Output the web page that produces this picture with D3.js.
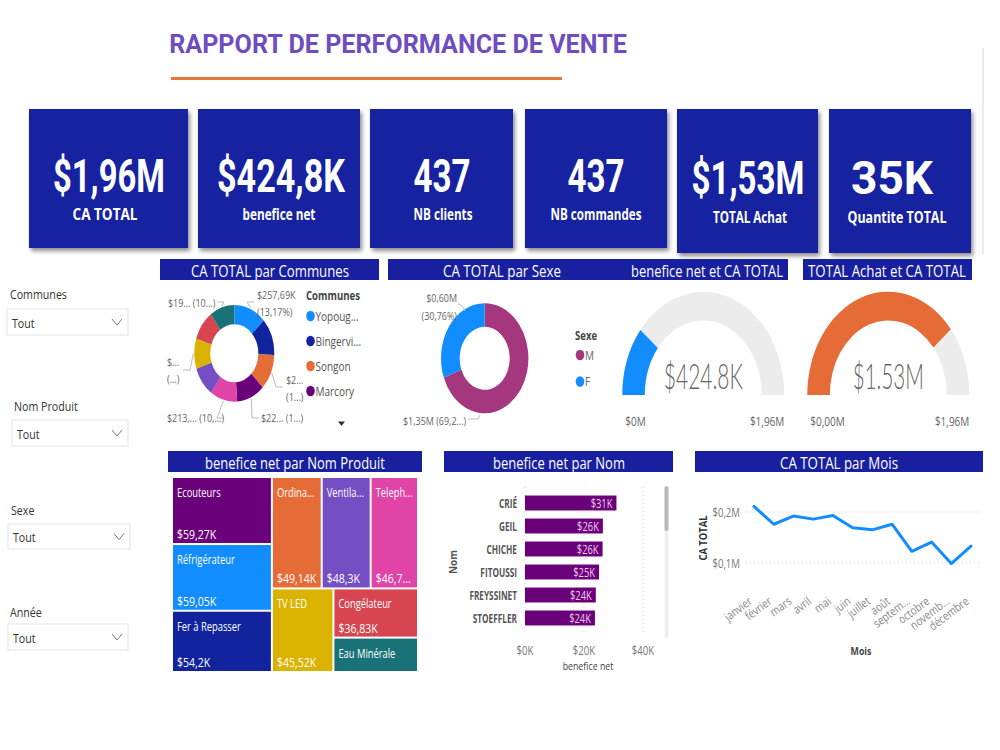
<!DOCTYPE html>
<html><head><meta charset="utf-8">
<script src="https://cdn.jsdelivr.net/npm/d3@7/dist/d3.min.js"></script>
<style>html,body{margin:0;padding:0;background:#fff;overflow:hidden}</style>
</head><body><svg id="c" width="1000" height="750"></svg>
<script>
// ---------------- DATA ----------------
const kpiValues = ['$1,96M', '$424,8K', '437', '437', '$1,53M', '35K'];
const kpiLabels = ['CA TOTAL', 'benefice net', 'NB clients', 'NB commandes', 'TOTAL Achat', 'Quantite TOTAL'];

const communes = ['Yopougon', 'Bingerville', 'Songon', 'Marcory', 'Cocody', 'Abobo', 'Adjamé', 'Plateau', 'Treichville'];
const communeCA = [257.69, 242.6, 232.8, 223.1, 213.3, 197.6, 196.7, 196.7, 196.3];
const communeLegend = ['Yopoug...', 'Bingervi...', 'Songon', 'Marcory'];
const communeLabelA = ['$257,69K', null, '$2...', '$22... (1...)', '$213,... (10,...)', null, '$...', null, '$19... (10...)'];
const communeLabelB = ['(13,17%)', null, '(1...)', null, null, null, '(...)', null, null];

const sexes = ['M', 'F'];
const sexeCA = [1.354, 0.602];
const sexeLabelA = ['$1,35M (69,2...)', '$0,60M'];
const sexeLabelB = [null, '(30,76%)'];

const gaugeValues = [424.8, 1530];
const gaugeMax = 1960;
const gaugeCenterText = ['$424.8K', '$1.53M'];
const gaugeMinText = ['$0M', '$0,00M'];
const gaugeMaxText = ['$1,96M', '$1,96M'];

const products = ['Ecouteurs', 'Réfrigérateur', 'Fer à Repasser', 'Ordinateur', 'Ventilateur', 'Telephone', 'TV LED', 'Congélateur', 'Eau Minérale'];
const productProfit = [59.27, 59.05, 54.2, 49.14, 48.3, 46.72, 45.52, 36.83, 25.77];
const productValueText = ['$59,27K', '$59,05K', '$54,2K', '$49,14K', '$48,3K', '$46,72K', '$45,52K', '$36,83K', '$25,77K'];

const clients = ['CRIÉ', 'GEIL', 'CHICHE', 'FITOUSSI', 'FREYSSINET', 'STOEFFLER'];
const clientProfit = [31.0, 26.4, 26.3, 25.1, 24.0, 23.7];
const profitTicks = [0, 20, 40];

const months = ['janvier', 'février', 'mars', 'avril', 'mai', 'juin', 'juillet', 'août', 'septembre', 'octobre', 'novembre', 'décembre'];
const monthLabels = ['janvier', 'février', 'mars', 'avril', 'mai', 'juin', 'juillet', 'août', 'septem...', 'octobre', 'novemb...', 'décembre'];
const monthCA = [0.211, 0.176, 0.192, 0.186, 0.193, 0.169, 0.165, 0.176, 0.123, 0.141, 0.099, 0.133];
const caTicks = [0.1, 0.2];
const caTickLabels = ['$0,1M', '$0,2M'];

const slicerTitles = ['Communes', 'Nom Produit', 'Sexe', 'Année'];

// ---------------- STYLE ----------------
const PAL = ['#118DFF', '#12239E', '#E66C37', '#6B007B', '#E044A7', '#744EC2', '#D9B300', '#D64550', '#197278'];
const NAVY = '#1820A0';
const F = "'Open Sans','Noto Sans',sans-serif";
const FD = "Roboto,'DejaVu Sans',sans-serif";
const SX = 0.8;

const svg = d3.select('#c');
const defs = svg.append('defs');
const sh = defs.append('filter').attr('id', 'sh').attr('x', '-10%').attr('y', '-10%').attr('width', '130%').attr('height', '130%');
sh.append('feDropShadow').attr('dx', 2).attr('dy', 3).attr('stdDeviation', 2).attr('flood-color', '#000').attr('flood-opacity', 0.45);

function T(g, x, y, s, o = {}) {
  const t = g.append('text')
    .attr('text-anchor', o.a || 'start').attr('dominant-baseline', 'central')
    .attr('font-family', o.ff || F).attr('font-size', o.fs || 12)
    .attr('font-weight', o.fw || 400).attr('fill', o.c || '#333').text(s);
  let sx = o.sx ?? SX;
  if (o.w) { const len = t.node().getComputedTextLength(); sx = o.w / len; }
  t.attr('transform', `translate(${x},${y})` + (o.rot ? ` rotate(${o.rot})` : '') + ` scale(${sx},1)`);
  return t;
}
function fit(t, maxW, sx = SX) {
  let s = t.text();
  if (t.node().getComputedTextLength() * sx <= maxW) return;
  while (s.length > 1) {
    s = s.slice(0, -1);
    t.text(s + '...');
    if (t.node().getComputedTextLength() * sx <= maxW) break;
  }
}

// ---------------- TITLE ----------------
T(svg, 398, 44, 'RAPPORT DE PERFORMANCE DE VENTE', { a: 'middle', w: 458, fs: 26, fw: 700, c: '#6E4DC1', ff: FD });
svg.append('rect').attr('x', 171).attr('y', 77).attr('width', 391).attr('height', 3).attr('fill', '#E2783A');
svg.append('line').attr('x1', 983).attr('x2', 983).attr('y1', 48).attr('y2', 255).attr('stroke', '#e4e4e4').attr('stroke-width', 1.5);

// ---------------- KPI CARDS ----------------
const cardBox = [[29, 188, 248], [198, 360, 248], [370, 513, 248], [525, 667, 248], [677, 818, 253], [829, 971, 253]];
const cardValW = [112, 128, 57, 57, 113, 82];
const cardValX = [109, 281, 442, 596, 748, 892];
const cardLabW = [65, 73, 59, 91, 74, 99];
const cardLabX = [105, 279, 443, 596, 750, 897];
cardBox.forEach((b, i) => {
  svg.append('rect').attr('x', b[0]).attr('y', 109).attr('width', b[1] - b[0]).attr('height', b[2] - 109)
    .attr('fill', NAVY).attr('filter', 'url(#sh)');
  const dy = b[2] === 253 ? 1.5 : 0;
  T(svg, cardValX[i], 176 + dy, kpiValues[i], { a: 'middle', w: cardValW[i], fs: 47, fw: 700, c: '#fff', ff: FD });
  T(svg, cardLabX[i], 214 + dy * 1.8, kpiLabels[i], { a: 'middle', w: cardLabW[i], fs: 16, fw: 700, c: '#fff', ff: F });
});

// ---------------- SECTION HEADERS ----------------
function header(x0, x1, y0, y1) {
  svg.append('rect').attr('x', x0).attr('y', y0).attr('width', x1 - x0).attr('height', y1 - y0).attr('fill', NAVY);
}
header(160, 379, 259, 280);
header(388, 788, 259, 280);
header(803, 972, 259, 280);
header(168, 422, 451, 472);
header(444, 673, 451, 472);
header(695, 983, 451, 472);
T(svg, 270, 270, 'CA TOTAL par Communes', { a: 'middle', w: 158, fs: 17, c: '#fff' });
T(svg, 502, 270, 'CA TOTAL par Sexe', { a: 'middle', w: 118, fs: 17, c: '#fff' });
T(svg, 707, 270, 'benefice net et CA TOTAL', { a: 'middle', w: 152, fs: 17, c: '#fff' });
T(svg, 887, 270, 'TOTAL Achat et CA TOTAL', { a: 'middle', w: 158, fs: 17, c: '#fff' });
T(svg, 295, 462, 'benefice net par Nom Produit', { a: 'middle', w: 180, fs: 17, c: '#fff' });
T(svg, 559, 462, 'benefice net par Nom', { a: 'middle', w: 132, fs: 17, c: '#fff' });
T(svg, 839, 462, 'CA TOTAL par Mois', { a: 'middle', w: 118, fs: 17, c: '#fff' });

// ---------------- SLICERS ----------------
const slTitlePos = [[10, 294], [14, 406], [11, 510], [10, 612]];
const slBox = [[7, 128, 309, 335], [12, 128, 420, 446], [8, 130, 524, 549], [8, 128, 624, 650]];
slicerTitles.forEach((s, i) => {
  T(svg, slTitlePos[i][0], slTitlePos[i][1], s, { fs: 13, c: '#333', sx: 0.82 });
  const b = slBox[i];
  svg.append('rect').attr('x', b[0]).attr('y', b[2]).attr('width', b[1] - b[0]).attr('height', b[3] - b[2])
    .attr('fill', '#fff').attr('stroke', '#e3e3e3').attr('stroke-width', 1);
  const cy = (b[2] + b[3]) / 2;
  T(svg, b[0] + 5, cy + 0.5, 'Tout', { fs: 13, c: '#333', sx: 0.82 });
  svg.append('path').attr('d', `M${b[1] - 16},${cy - 3} L${b[1] - 11},${cy + 3} L${b[1] - 6},${cy - 3}`)
    .attr('fill', 'none').attr('stroke', '#777').attr('stroke-width', 1);
});

// ---------------- DONUT COMMUNES ----------------
(function () {
  const cx = 234.3, cy = 353.3, r = 40, ri = 24, sy = 1.21;
  const g = svg.append('g').attr('transform', `translate(${cx},${cy}) scale(1,${sy})`);
  const arcs = d3.pie().sort(null).value(d => d)(communeCA);
  const arc = d3.arc().innerRadius(ri).outerRadius(r);
  g.selectAll('path').data(arcs).join('path').attr('d', arc).attr('fill', (d, i) => PAL[i]);
  const lab = {
    0: { x: 257, y: 295, lx: 254, ly: 302 },
    2: { x: 286, y: 380, lx: 283, ly: 387 },
    3: { x: 261, y: 418, lx: 259, ly: 418 },
    4: { x: 167, y: 418, lx: 224, ly: 418 },
    6: { x: 167, y: 362, lx: 183, ly: 370 },
    8: { x: 168, y: 303, lx: 217, ly: 302 }
  };
  arcs.forEach((d, i) => {
    const L = lab[i]; if (!L) return;
    const m = (d.startAngle + d.endAngle) / 2;
    const px = cx + (r + 1) * Math.sin(m), py = cy - (r + 1) * Math.cos(m) * sy;
    const ex = L.lx + (px > L.lx ? 7 : -7);
    svg.append('path').attr('d', `M${px},${py} L${ex},${L.ly} L${L.lx},${L.ly}`)
      .attr('fill', 'none').attr('stroke', '#bbb').attr('stroke-width', 1);
    T(svg, L.x, L.y, communeLabelA[i], { fs: 11.5, c: '#666', sx: 0.78 });
    if (communeLabelB[i]) T(svg, L.x, L.y + 16.5, communeLabelB[i], { fs: 11.5, c: '#666', sx: 0.78 });
  });
  T(svg, 306, 295, 'Communes', { fs: 12, fw: 700, c: '#444', sx: 0.8 });
  communeLegend.forEach((s, i) => {
    const y = 316 + i * 25;
    svg.append('ellipse').attr('cx', 310.5).attr('cy', y).attr('rx', 4.3).attr('ry', 5.2).attr('fill', PAL[i]);
    T(svg, 315.5, y, s, { fs: 12.5, c: '#555', sx: 0.8 });
  });
  svg.append('path').attr('d', 'M338,421.5 L345,421.5 L341.5,426 Z').attr('fill', '#333');
})();

// ---------------- DONUT SEXE ----------------
(function () {
  const cx = 484.7, cy = 358.3, r = 43.7, ri = 25, sy = 1.26;
  const g = svg.append('g').attr('transform', `translate(${cx},${cy}) scale(1,${sy})`);
  const cols = ['#A5377E', '#118DFF'];
  const arcs = d3.pie().sort(null).value(d => d)(sexeCA);
  g.selectAll('path').data(arcs).join('path').attr('d', d3.arc().innerRadius(ri).outerRadius(r)).attr('fill', (d, i) => cols[i]);
  svg.append('path').attr('d', 'M458,304 Q462,304 465,311').attr('fill', 'none').attr('stroke', '#bbb');
  T(svg, 457, 298, sexeLabelA[1], { a: 'end', fs: 11.5, c: '#666', sx: 0.78 });
  T(svg, 457, 316, sexeLabelB[1], { a: 'end', fs: 11.5, c: '#666', sx: 0.78 });
  svg.append('path').attr('d', 'M468,419 L478,419 L480,415').attr('fill', 'none').attr('stroke', '#bbb');
  T(svg, 403, 421, sexeLabelA[0], { fs: 11.5, c: '#666', sx: 0.78 });
  T(svg, 575, 335, 'Sexe', { fs: 12, fw: 700, c: '#444', sx: 0.8 });
  sexes.forEach((s, i) => {
    const y = 355 + i * 26.5;
    svg.append('ellipse').attr('cx', 580).attr('cy', y).attr('rx', 4.3).attr('ry', 5.2).attr('fill', cols[i]);
    T(svg, 585, y, s, { fs: 12.5, c: '#666', sx: 0.8 });
  });
})();

// ---------------- GAUGES ----------------
(function () {
  const centers = [703.3, 888.3];
  const gcol = ['#118DFF', '#E66C37'];
  const cy = 395, r = 81, ri = 58.5, sy = 1.275;
  const ang = d3.scaleLinear().domain([0, gaugeMax]).range([-Math.PI / 2, Math.PI / 2]);
  const arc = d3.arc().innerRadius(ri).outerRadius(r);
  centers.forEach((cx, i) => {
    const g = svg.append('g').attr('transform', `translate(${cx},${cy}) scale(1,${sy})`);
    g.append('path').attr('d', arc({ startAngle: -Math.PI / 2, endAngle: Math.PI / 2 })).attr('fill', '#ECECEC');
    g.append('path').attr('d', arc({ startAngle: -Math.PI / 2, endAngle: ang(gaugeValues[i]) })).attr('fill', gcol[i]);
    T(svg, cx, 374.5, gaugeCenterText[i], { a: 'middle', w: i ? 71 : 79, fs: 36, fw: 300, c: '#666', ff: "Lato,'Open Sans',sans-serif" });
    T(svg, cx - r + 3, 421, gaugeMinText[i], { fs: 12.5, c: '#666', sx: 0.8 });
    T(svg, cx + r, 421, gaugeMaxText[i], { a: 'end', fs: 12.5, c: '#666', sx: 0.8 });
  });
})();

// ---------------- TREEMAP ----------------
(function () {
  const x0 = 173, y0 = 478, W = 244, H = 193;
  const groups = [[0, 1, 2], [[3, 4, 5], [6, [7, 8]]]];
  const build = g => Array.isArray(g) ? { children: g.map(build) } : { idx: g, value: productProfit[g] };
  const cmap = [3, 0, 1, 2, 5, 4, 6, 7, 8];
  const root = d3.hierarchy(build(groups)).sum(d => d.value || 0);
  d3.treemap().tile(d3.treemapSliceDice).size([W, H]).paddingInner(2)(root);
  root.leaves().forEach(n => {
    const i = n.data.idx;
    const x = x0 + n.x0, y = y0 + n.y0, w = n.x1 - n.x0, h = n.y1 - n.y0;
    svg.append('rect').attr('x', x).attr('y', y).attr('width', w).attr('height', h).attr('fill', PAL[cmap[i]]);
    const t1 = T(svg, x + 4, y + 14, products[i], { fs: 12, c: '#fff', sx: 0.78 });
    fit(t1, w - 8, 0.78);
    if (h > 40) {
      const t2 = T(svg, x + 4, y + h - 9, productValueText[i], { fs: 13.5, c: '#fff', sx: 0.78 });
      fit(t2, w - 8, 0.78);
    }
  });
})();

// ---------------- BAR CHART ----------------
(function () {
  const x = d3.scaleLinear().domain([0, 40]).range([525, 643]);
  const y = d3.scaleBand().domain(clients).range([491.5, 629.5]).paddingInner(0.35).paddingOuter(0.175);
  svg.append('g').selectAll('line').data(profitTicks).join('line')
    .attr('x1', d => x(d)).attr('x2', d => x(d)).attr('y1', 487).attr('y2', 633)
    .attr('stroke', '#d0d0d0').attr('stroke-dasharray', '1,3');
  svg.append('g').selectAll('rect').data(clientProfit).join('rect')
    .attr('x', x(0)).attr('y', (d, i) => y(clients[i])).attr('width', d => x(d) - x(0)).attr('height', y.bandwidth())
    .attr('fill', '#6B007B');
  clientProfit.forEach((v, i) => {
    const yc = y(clients[i]) + y.bandwidth() / 2;
    T(svg, x(v) - 4, yc, `$${Math.round(v)}K`, { a: 'end', fs: 12, c: '#F3CDEE', sx: 0.78 });
    T(svg, 517, yc, clients[i], { a: 'end', fs: 12.5, fw: 700, c: '#555', sx: 0.66 });
  });
  const ax = svg.append('g').attr('transform', 'translate(0,650)')
    .call(d3.axisBottom(x).tickValues(profitTicks).tickSize(0).tickPadding(0).tickFormat(d => `$${d}K`));
  ax.select('.domain').remove();
  ax.selectAll('text').remove();
  profitTicks.forEach(d => T(svg, x(d), 650, `$${d}K`, { a: 'middle', fs: 12, c: '#777', sx: 0.8 }));
  T(svg, 588, 666, 'benefice net', { a: 'middle', fs: 11, c: '#444', sx: 0.8 });
  T(svg, 453, 562, 'Nom', { a: 'middle', fs: 11, fw: 700, c: '#555', rot: -90, sx: 0.9 });
  svg.append('rect').attr('x', 664.5).attr('y', 486).attr('width', 4).attr('height', 152).attr('rx', 2).attr('fill', '#f0f0f0');
  svg.append('rect').attr('x', 664.5).attr('y', 486).attr('width', 4).attr('height', 45).attr('rx', 2).attr('fill', '#b8b8b8');
})();

// ---------------- LINE CHART ----------------
(function () {
  const x = d3.scalePoint().domain(months).range([754, 971]);
  const y = d3.scaleLinear().domain([0, 0.2]).range([614, 512]);
  svg.append('g').selectAll('line').data(caTicks).join('line')
    .attr('x1', 746).attr('x2', 980).attr('y1', d => y(d)).attr('y2', d => y(d))
    .attr('stroke', '#d0d0d0').attr('stroke-dasharray', '1,3');
  caTicks.forEach((d, i) => T(svg, 740, y(d), caTickLabels[i], { a: 'end', fs: 12, c: '#777', sx: 0.8 }));
  svg.append('path').datum(monthCA)
    .attr('d', d3.line().x((d, i) => x(months[i])).y(d => y(d)))
    .attr('fill', 'none').attr('stroke', '#118DFF').attr('stroke-width', 3).attr('stroke-linejoin', 'round').attr('stroke-linecap', 'round');
  months.forEach((m, i) => {
    T(svg, x(m) - 4, 599, monthLabels[i], { a: 'end', fs: 12, c: '#888', rot: -37, sx: 0.82 });
  });
  T(svg, 703, 538, 'CA TOTAL', { a: 'middle', fs: 10.5, fw: 700, c: '#333', rot: -90, sx: 0.9 });
  T(svg, 861, 651, 'Mois', { a: 'middle', fs: 11, fw: 700, c: '#444', sx: 0.8 });
})();
</script></body></html>
